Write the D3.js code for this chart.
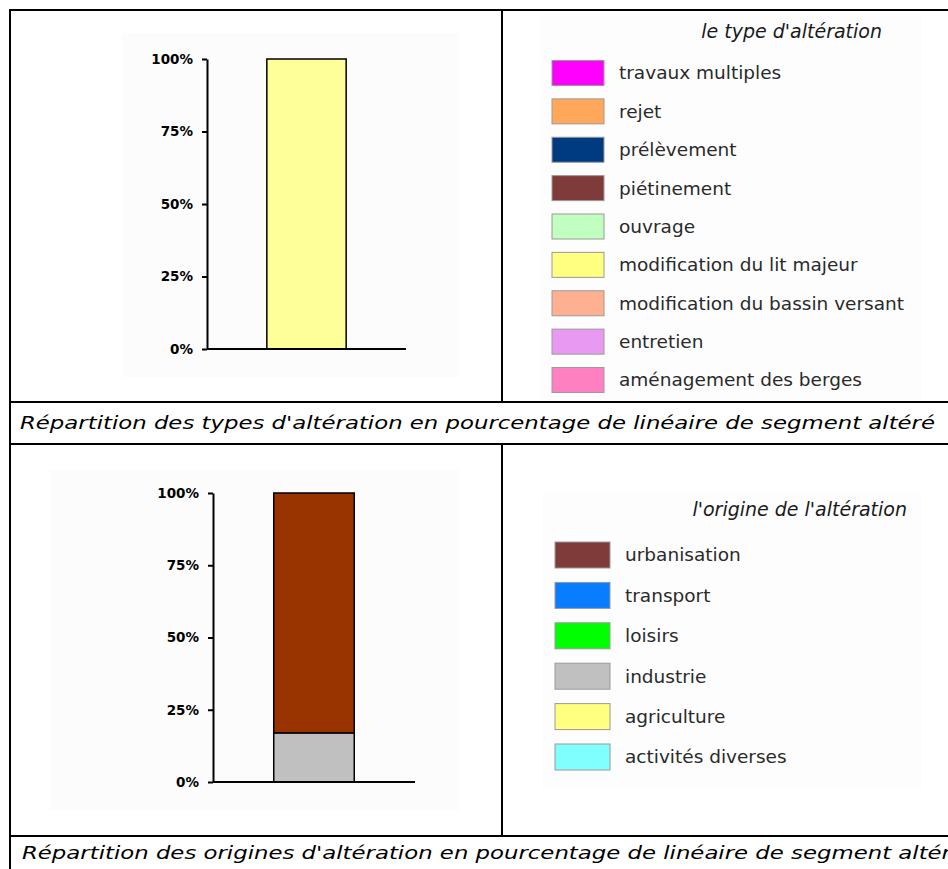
<!DOCTYPE html>
<html>
<head>
<meta charset="utf-8">
<script src="https://cdn.jsdelivr.net/npm/d3@7"></script>
<style>
  body { margin: 0; background: #fff; }
  svg { display: block; }
</style>
</head>
<body>
<script>
// types d'altération (ordre de la légende)
var typeCategories = ["travaux multiples", "rejet", "prélèvement", "piétinement", "ouvrage",
    "modification du lit majeur", "modification du bassin versant", "entretien", "aménagement des berges"];
var typeValues = [0, 0, 0, 0, 0, 100, 0, 0, 0];
var typeColors = ["#ff00ff", "#ffa85c", "#003a80", "#7f3a3a", "#c0ffc0", "#ffff80", "#ffb090", "#e89af2", "#ff80c0"];
var typeBarColors = ["#ff00ff", "#ffa85c", "#003a80", "#7f3a3a", "#c0ffc0", "#ffff99", "#ffb090", "#e89af2", "#ff80c0"];

// origines de l'altération
var originCategories = ["urbanisation", "transport", "loisirs", "industrie", "agriculture", "activités diverses"];
var originValues = [83, 0, 0, 17, 0, 0];
var originColors = ["#7f3a3a", "#0a7cff", "#00ff00", "#c0c0c0", "#ffff80", "#80ffff"];
var originBarColors = ["#993300", "#0a7cff", "#00ff00", "#c0c0c0", "#ffff80", "#80ffff"];

var yTicks = [0, 25, 50, 75, 100];

var captions = [
    "Répartition des types d'altération en pourcentage de linéaire de segment altéré",
    "Répartition des origines d'altération en pourcentage de linéaire de segment altéré"
];

var W = 948, H = 869;
var svg = d3.select("body").append("svg")
    .attr("width", W)
    .attr("height", H);

// fonds très clairs des images d'origine
svg.append("rect").attr("x", 122).attr("y", 33).attr("width", 338).attr("height", 344).attr("fill", "#fcfcfc");
svg.append("rect").attr("x", 50).attr("y", 470).attr("width", 410).attr("height", 340).attr("fill", "#fcfcfc");
svg.append("rect").attr("x", 540).attr("y", 14).attr("width", 382).attr("height", 386).attr("fill", "#fdfdfd");
svg.append("rect").attr("x", 542).attr("y", 493).attr("width", 380).attr("height", 295).attr("fill", "#fdfdfd");

function drawBar(cats, values, colors, box) {
    var row = {};
    cats.forEach((c, i) => row[c] = values[i]);
    // empilement du bas vers le haut = ordre inverse de la légende
    var keys = cats.slice().reverse();
    var series = d3.stack().keys(keys)([row]);
    var color = d3.scaleOrdinal().domain(cats).range(colors);

    var x = d3.scaleBand()
        .domain(["segment"])
        .range([box.x0, box.x1])
        .padding(0.43);

    var y = d3.scaleLinear()
        .domain([0, 100])
        .range([box.y0, box.y1]);

    var g = svg.append("g");

    g.selectAll("rect.seg")
        .data(series.filter((s) => s[0][1] - s[0][0] > 0))
        .enter()
        .append("rect")
        .attr("class", "seg")
        .attr("x", x("segment"))
        .attr("y", (s) => y(s[0][1]))
        .attr("width", x.bandwidth())
        .attr("height", (s) => y(s[0][0]) - y(s[0][1]))
        .attr("fill", (s) => color(s.key))
        .attr("stroke", "#000")
        .attr("stroke-width", 1.5);

    var axis = g.append("g")
        .attr("transform", `translate(${box.x0},0)`)
        .call(d3.axisLeft(y).tickValues(yTicks).tickFormat((d) => d + "%").tickSize(5).tickSizeOuter(0).tickPadding(9));
    axis.select(".domain").attr("stroke-width", 2);
    axis.selectAll(".tick line").attr("stroke-width", 2);
    axis.selectAll("text")
        .attr("font-family", "DejaVu Sans")
        .attr("font-size", "13.5px")
        .attr("font-weight", "bold")
        .attr("fill", "#000");

    // ligne de base
    g.append("line")
        .attr("x1", box.x0).attr("x2", box.x1)
        .attr("y1", y(0)).attr("y2", y(0))
        .attr("stroke", "#000")
        .attr("stroke-width", 2);
}

drawBar(typeCategories, typeValues, typeBarColors, { x0: 207, x1: 406, y0: 349, y1: 59 });
drawBar(originCategories, originValues, originBarColors, { x0: 213, x1: 415, y0: 782, y1: 493 });

function drawLegend(title, cats, colors, opt) {
    var g = svg.append("g");
    var ry = d3.scalePoint().domain(cats).range([opt.top, opt.bottom]);

    g.append("text")
        .text(title)
        .attr("x", opt.titleX)
        .attr("y", opt.titleY)
        .attr("text-anchor", "end")
        .attr("font-family", "DejaVu Sans")
        .attr("font-style", "italic")
        .attr("font-size", "19px")
        .attr("fill", "#1a1a1a");

    g.selectAll("rect")
        .data(cats)
        .enter()
        .append("rect")
        .attr("x", opt.sx)
        .attr("y", (d) => ry(d) - opt.sh / 2)
        .attr("width", opt.sw)
        .attr("height", opt.sh)
        .attr("fill", (d, i) => colors[i])
        .attr("stroke", "#9a9a9a")
        .attr("stroke-width", 1);

    g.selectAll("text.lab")
        .data(cats)
        .enter()
        .append("text")
        .attr("class", "lab")
        .text((d) => d)
        .attr("x", opt.tx)
        .attr("y", (d) => ry(d))
        .attr("dy", "0.35em")
        .attr("font-family", "DejaVu Sans")
        .attr("font-size", "18.5px")
        .attr("fill", "#2a2a2a");
}

drawLegend("le type d'altération", typeCategories, typeColors,
    { titleX: 882, titleY: 38, top: 73, bottom: 380, sx: 552, sw: 52, sh: 25, tx: 619 });
drawLegend("l'origine de l'altération", originCategories, originColors,
    { titleX: 907, titleY: 516, top: 555, bottom: 757, sx: 555, sw: 55, sh: 26, tx: 625 });

// cadre du tableau
var frame = svg.append("g").attr("stroke", "#000").attr("stroke-width", 2);
frame.append("line").attr("x1", 10).attr("x2", 10).attr("y1", 10).attr("y2", H);
[10, 402, 444, 836].forEach((yy) => {
    frame.append("line").attr("x1", 9).attr("x2", W).attr("y1", yy).attr("y2", yy);
});
frame.append("line").attr("x1", 502).attr("x2", 502).attr("y1", 10).attr("y2", 402);
frame.append("line").attr("x1", 502).attr("x2", 502).attr("y1", 444).attr("y2", 836);

// légendes sous les graphiques
var capY = [429, 859];
var capX = [20, 22];
var capTexts = svg.selectAll("text.cap")
    .data(captions)
    .enter()
    .append("text")
    .attr("class", "cap")
    .text((d) => d)
    .attr("x", (d, i) => capX[i])
    .attr("y", (d, i) => capY[i])
    .attr("font-family", "DejaVu Sans")
    .attr("font-style", "italic")
    .attr("font-size", "18.5px")
    .attr("fill", "#000");

var lens = [];
capTexts.each(function () { lens.push(this.getComputedTextLength()); });
var k = 915 / lens[0];
capTexts.attr("textLength", (d, i) => lens[i] * k).attr("lengthAdjust", "spacingAndGlyphs");
</script>
</body>
</html>
